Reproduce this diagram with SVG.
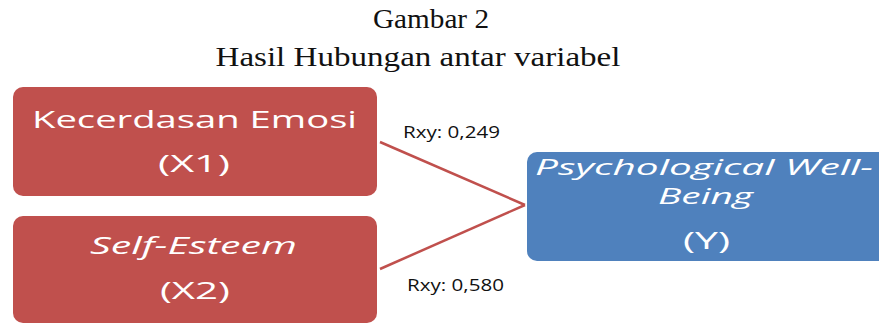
<svg xmlns="http://www.w3.org/2000/svg" width="879" height="324" viewBox="0 0 879 324">
<style>
.title{font-family:"Liberation Serif",serif;font-size:28px;fill:#111}
.nt{font-family:"Open Sans","Noto Sans",sans-serif;font-size:24px;fill:#fff}
.sm{font-size:21px}
.it{font-style:italic}
.lbl{font-family:"Open Sans","Noto Sans",sans-serif;font-size:17px;fill:#111}
.red{fill:#C0504D}
.blue{fill:#4F81BD}
.conn{stroke:#C0504D;stroke-width:2.5;fill:none}
</style>
<rect width="879" height="324" fill="#fff"/>
<text class="title" x="431" y="28" text-anchor="middle" textLength="116" lengthAdjust="spacingAndGlyphs">Gambar 2</text>
<text class="title" x="418" y="66" text-anchor="middle" textLength="405" lengthAdjust="spacingAndGlyphs">Hasil Hubungan antar variabel</text>
<g id="connectors">
<line class="conn" x1="380" y1="142" x2="525" y2="205"/>
<line class="conn" x1="380" y1="269" x2="525" y2="205"/>
</g>
<g id="x1">
<rect class="red" x="13" y="87" width="364" height="109" rx="10"/>
<text class="nt" x="32" y="128" textLength="325" lengthAdjust="spacingAndGlyphs">Kecerdasan Emosi</text>
<text class="nt" x="158" y="172" textLength="72" lengthAdjust="spacingAndGlyphs">(X1)</text>
</g>
<g id="x2">
<rect class="red" x="13" y="216" width="364" height="107" rx="10"/>
<text class="nt it" x="90" y="254" textLength="207" lengthAdjust="spacingAndGlyphs">Self-Esteem</text>
<text class="nt" x="160" y="299" textLength="70" lengthAdjust="spacingAndGlyphs">(X2)</text>
</g>
<g id="y">
<rect class="blue" x="527" y="152" width="370" height="109" rx="10"/>
<text class="nt sm it" x="535" y="175" textLength="338" lengthAdjust="spacingAndGlyphs">Psychological  Well-</text>
<text class="nt sm it" x="658" y="204" textLength="95" lengthAdjust="spacingAndGlyphs">Being</text>
<text class="nt" x="683" y="249" textLength="47" lengthAdjust="spacingAndGlyphs">(Y)</text>
</g>
<g id="labels">
<text class="lbl" x="403" y="138" textLength="97" lengthAdjust="spacingAndGlyphs">Rxy: 0,249</text>
<text class="lbl" x="407" y="291" textLength="97" lengthAdjust="spacingAndGlyphs">Rxy: 0,580</text>
</g>
</svg>
